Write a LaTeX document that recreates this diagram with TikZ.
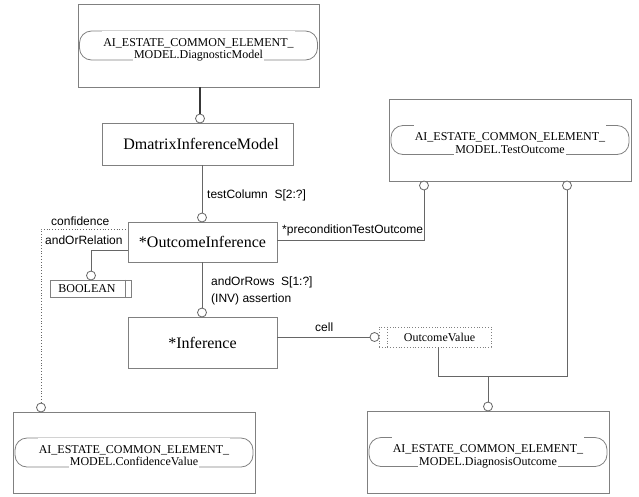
\documentclass[tikz,border=0pt]{standalone}
\usepackage{fontspec}
\setmainfont{Liberation Serif}
\newfontfamily\lsans{Liberation Sans}
\definecolor{boxgray}{HTML}{808080}
\definecolor{linegray}{HTML}{666666}
\definecolor{darkline}{HTML}{383838}
\tikzset{
  umlbox/.style={draw=boxgray, line width=0.9pt, inner sep=0pt, font=\fontsize{16}{16}\selectfont},
  pill/.style={draw=boxgray, line width=0.8pt, rounded corners=12pt, minimum width=238pt, minimum height=29pt, inner sep=0pt},
  pillone/.style={fill=white, anchor=base, inner xsep=1pt, inner ysep=6pt, text height=9.5pt, text depth=1.5pt, font=\fontsize{12}{12}\selectfont},
  pilltwo/.style={fill=white, anchor=base, inner xsep=1pt, inner ysep=3pt, text height=8pt, text depth=3pt, font=\fontsize{12}{12}\selectfont},
  circ/.style={circle, draw=linegray, fill=white, line width=0.8pt, minimum size=9pt, inner sep=0pt},
  conn/.style={draw=linegray, line width=0.9pt},
  thickconn/.style={draw=darkline, line width=1.8pt},
  dotconn/.style={draw=linegray, line width=0.8pt, dotted},
  lbl/.style={font=\lsans\fontsize{12}{12}\selectfont, anchor=west, inner sep=0pt},
  smalltext/.style={font=\fontsize{12}{12}\selectfont, inner sep=0pt}
}
\newcommand\modlabel[2]{%
  \node[pill] (#1P) at (#1.center) {};
  \node[pillone] (#1A) at ([yshift=-0.5pt]#1P.center) {AI\_ESTATE\_COMMON\_ELEMENT\_};
  \node[pilltwo] (#1B) at ([yshift=-13pt]#1P.center) {MODEL.#2};
}
\begin{document}
\begin{tikzpicture}[x=1pt,y=-1pt]
\useasboundingbox (0,0) rectangle (639,496);

% external model boxes
\node[umlbox, minimum width=241pt, minimum height=83pt] (dm) at (198.5,45.5) {};
\modlabel{dm}{DiagnosticModel}
\node[umlbox, minimum width=242pt, minimum height=82pt] (to) at (510,140) {};
\modlabel{to}{TestOutcome}
\node[umlbox, minimum width=242pt, minimum height=81pt] (cv) at (134,452.5) {};
\modlabel{cv}{ConfidenceValue}
\node[umlbox, minimum width=242pt, minimum height=82pt] (do) at (488,452) {};
\modlabel{do}{DiagnosisOutcome}

% entity boxes
\node[umlbox, minimum width=191pt, minimum height=42pt] (dim) at (197.5,144) {};
\node[umlbox, draw=none] (dimt) at (201,144) {DmatrixInferenceModel};
\node[umlbox, minimum width=149pt, minimum height=40pt] (oi) at (202.5,242) {*OutcomeInference};
\node[umlbox, minimum width=149pt, minimum height=51pt] (inf) at (202.5,342.5) {*Inference};

% BOOLEAN
\node[draw=boxgray, line width=0.9pt, minimum width=81pt, minimum height=17pt, inner sep=0pt] (bool) at (90.5,288.5) {};
\draw[boxgray, line width=0.9pt] ([xshift=-6pt]bool.north east) -- ([xshift=-6pt]bool.south east);
\node[smalltext] (boolt) at (87,289) {BOOLEAN};

% OutcomeValue
\node[draw=boxgray, line width=0.8pt, dotted, minimum width=112pt, minimum height=20pt, inner sep=0pt] (ov) at (435,337) {};
\draw[boxgray, line width=0.8pt, dotted] ([xshift=9pt]ov.north west) -- ([xshift=9pt]ov.south west);
\node[smalltext] (ovt) at (439.5,337.5) {OutcomeValue};

% circles
\node[circ] (c1) at (200,118.5) {};
\node[circ] (c2) at (202,217.5) {};
\node[circ] (c3) at (202,312.5) {};
\node[circ] (c4) at (91,275.5) {};
\node[circ] (c5) at (41,407.5) {};
\node[circ] (c6) at (424,185.5) {};
\node[circ] (c7) at (567,185.5) {};
\node[circ] (c8) at (488,406.5) {};
\node[circ] (c9) at (374.5,337) {};

% junctions
\coordinate (bj) at (91,250);
\coordinate (cj) at (41,229);
\coordinate (pj) at (424,240);
\coordinate (dj1) at (567,376);
\coordinate (dj2) at (438,376);
\coordinate (dj) at (488,376);

% connectors
\draw[thickconn] (c1.north) -- (c1 |- dm.south);
\draw[conn] (c2.north) -- (c2 |- dim.south);
\draw[conn] (c3.north) -- (c3 |- oi.south);
\draw[conn] (c4.north) -- (bj) -- (bj -| oi.west);
\draw[dotconn] (c5.north) -- (cj) -- (cj -| oi.west);
\draw[conn] (c6.south) -- (pj) -- (pj -| oi.east);
\draw[conn] (c7.south) -- (dj1) -- (dj2) -- (dj2 |- ov.south);
\draw[conn] (dj) -- (c8.north);
\draw[conn] (c9.west) -- (c9 -| inf.east);

% labels
\node[lbl] (l1) at (207,195) {testColumn\ \ S[2:?]};
\node[lbl] (l2) at (51,221) {confidence};
\node[lbl] (l3) at (45,240) {andOrRelation};
\node[lbl] (l4) at (282,230) {*preconditionTestOutcome};
\node[lbl] (l5) at (211,282) {andOrRows\ \ S[1:?]};
\node[lbl] (l6) at (211,299) {(INV) assertion};
\node[lbl] (l7) at (315,327) {cell};
\end{tikzpicture}
\end{document}
